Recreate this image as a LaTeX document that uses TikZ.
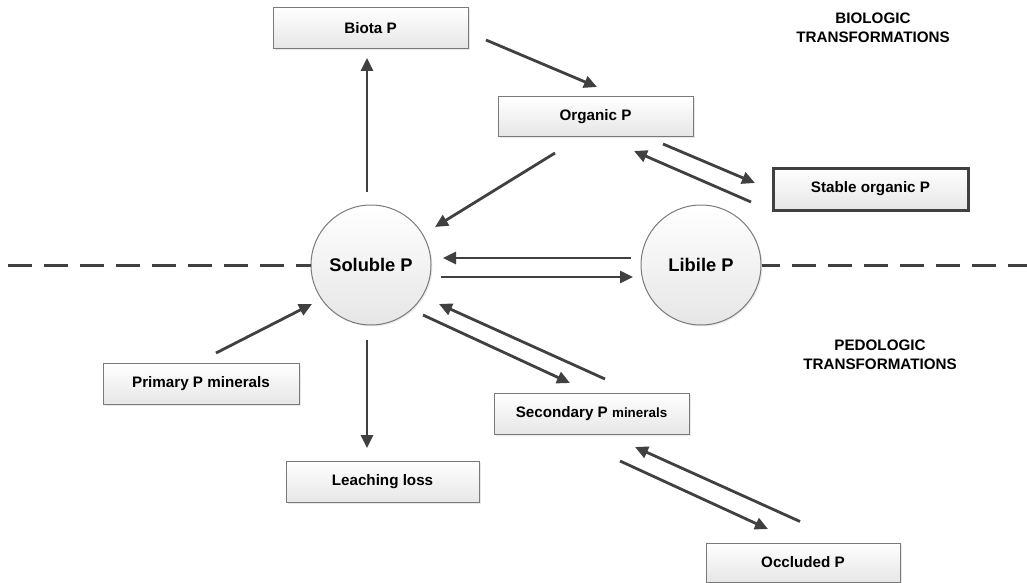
\documentclass[tikz,border=0pt]{standalone}
\usepackage{fontspec}
\setmainfont{Liberation Sans}
\usetikzlibrary{calc,arrows.meta,shadows}
\definecolor{arrgray}{HTML}{404040}
\definecolor{edgegray}{HTML}{7A7A7A}
\definecolor{fillbot}{HTML}{E6E6E6}
\tikzset{
  pbox/.style={draw=edgegray, line width=1pt, top color=white, bottom color=fillbot,
    minimum height=41pt, minimum width=195pt, inner sep=0pt,
    font=\fontsize{15.2}{17}\selectfont\bfseries,
    drop shadow={opacity=0.18, shadow xshift=1.5pt, shadow yshift=-1.5pt}},
  stablebox/.style={pbox, draw=arrgray, line width=3pt},
  pcircle/.style={circle, draw=edgegray, line width=1pt, top color=white, bottom color=fillbot,
    minimum size=120pt, inner sep=0pt, font=\fontsize{18.3}{20}\selectfont\bfseries,
    drop shadow={opacity=0.15, shadow xshift=1.5pt, shadow yshift=-1.5pt}},
  arr/.style={draw=arrgray, line width=2.8pt, -{Triangle[length=13pt,width=12pt]}},
  divline/.style={draw=arrgray, line width=3pt, dash pattern=on 24pt off 12pt},
  zonelabel/.style={align=center, font=\fontsize{15.2}{19.5}\selectfont\bfseries, inner sep=0pt}
}
\begin{document}
\begin{tikzpicture}[x=1pt,y=-1pt]
\useasboundingbox (0,0) rectangle (1027,583);
% nodes
\node[pbox] (biota) at (370.5,28) {Biota P};
\node[pbox, minimum height=39pt] (org) at (595.5,116.5) {Organic P};
\node[stablebox, minimum width=195pt, minimum height=42pt] (stable) at (870.5,189) {Stable organic P};
\node[pcircle] (sol) at (371,265) {Soluble P};
\node[pcircle] (lib) at (701,265) {Libile P};
\node[pbox, minimum width=196pt] (prim) at (201,384) {Primary P minerals};
\node[pbox] (sec) at (591.5,414) {Secondary P {\fontsize{13.4}{15}\selectfont minerals}};
\node[pbox, minimum width=193pt] (leach) at (382.5,482) {Leaching loss};
\node[pbox, minimum width=194pt, minimum height=39pt] (occ) at (803,562.5) {Occluded P};
% dashed divide
\coordinate (dl) at (8,265);
\coordinate (dr) at (1027,265);
\draw[divline] (dl) -- (sol.west);
\draw[divline, dash phase=6pt] (lib.east) -- (dr);
% zone labels
\node[zonelabel] (bio) at (873,28) {BIOLOGIC\\TRANSFORMATIONS};
\node[zonelabel] (ped) at (880,355) {PEDOLOGIC\\TRANSFORMATIONS};
% arrows
\draw[arr] ($(sol.center)+(-4,-73)$) -- ($(biota.center)+(-3.5,30)$);
\draw[arr] ($(biota.center)+(115.5,12)$) -- ($(org.center)+(1.5,-29.5)$);
\draw[arr] ($(org.center)+(-40.5,36.5)$) -- ($(sol.center)+(64,-38)$);
\draw[arr] ($(org.center)+(67.5,27.5)$) -- ($(stable.center)+(-115.5,-6)$);
\draw[arr] ($(stable.center)+(-119.5,13)$) -- ($(org.center)+(38.5,34.5)$);
\draw[arr] ($(lib.center)+(-70,-7)$) -- ($(sol.center)+(72,-7)$);
\draw[arr] ($(sol.center)+(70,12)$) -- ($(lib.center)+(-68,12)$);
\draw[arr] ($(prim.center)+(15,-31)$) -- ($(sol.center)+(-59,39)$);
\draw[arr] ($(sol.center)+(-4,75)$) -- ($(leach.center)+(-15.5,-34)$);
\draw[arr] ($(sol.center)+(52,50)$) -- ($(sec.center)+(-21.5,-31)$);
\draw[arr] ($(sec.center)+(13.5,-35)$) -- ($(sol.center)+(68,39)$);
\draw[arr] ($(occ.center)+(-3,-41)$) -- ($(sec.center)+(43.5,33)$);
\draw[arr] ($(sec.center)+(28.5,47)$) -- ($(occ.center)+(-35,-33.5)$);
\end{tikzpicture}
\end{document}
